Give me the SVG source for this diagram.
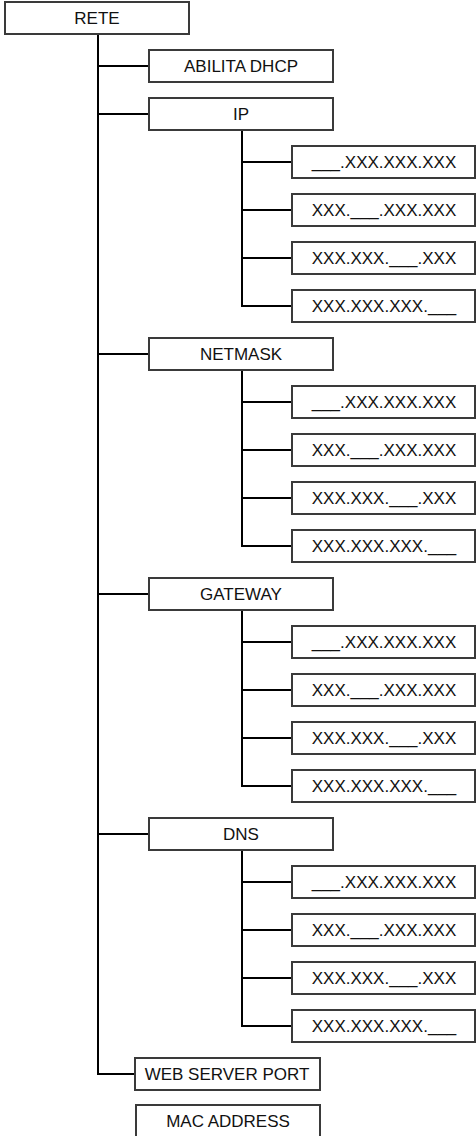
<svg xmlns="http://www.w3.org/2000/svg" width="476" height="1136" viewBox="0 0 476 1136">
<style>
rect{fill:#fff;stroke:#3a3a3a;stroke-width:2}
text{font-family:"Liberation Sans",Arial,sans-serif;font-size:17px;fill:#111;text-anchor:middle}
.c{fill:none;stroke:#000;stroke-width:2}
</style>
<rect x="0" y="0" width="476" height="1136" style="stroke:none"/>
<g id="connectors">
<path class="c" d="M98 34V1074H135M98 66H149M98 114H149M98 354H149M98 594H149M98 834H149"/>
<path class="c" d="M242 130V306H292M242 162H292M242 210H292M242 258H292"/>
<path class="c" d="M242 370V546H292M242 402H292M242 450H292M242 498H292"/>
<path class="c" d="M242 610V786H292M242 642H292M242 690H292M242 738H292"/>
<path class="c" d="M242 850V1026H292M242 882H292M242 930H292M242 978H292"/>
</g>
<g id="rete"><rect x="5" y="2" width="184" height="32"/><text x="97" y="24">RETE</text></g>
<g id="dhcp"><rect x="149" y="50" width="184" height="32"/><text x="241" y="72">ABILITA DHCP</text></g>
<g id="ip"><rect x="149" y="98" width="184" height="32"/><text x="241" y="120">IP</text></g>
<g id="ip1"><rect x="292" y="146" width="183" height="32"/><text x="384" y="168">___.XXX.XXX.XXX</text></g>
<g id="ip2"><rect x="292" y="194" width="183" height="32"/><text x="384" y="216">XXX.___.XXX.XXX</text></g>
<g id="ip3"><rect x="292" y="242" width="183" height="32"/><text x="384" y="264">XXX.XXX.___.XXX</text></g>
<g id="ip4"><rect x="292" y="290" width="183" height="32"/><text x="384" y="312">XXX.XXX.XXX.___</text></g>
<g id="netmask"><rect x="149" y="338" width="184" height="32"/><text x="241" y="360">NETMASK</text></g>
<g id="nm1"><rect x="292" y="386" width="183" height="32"/><text x="384" y="408">___.XXX.XXX.XXX</text></g>
<g id="nm2"><rect x="292" y="434" width="183" height="32"/><text x="384" y="456">XXX.___.XXX.XXX</text></g>
<g id="nm3"><rect x="292" y="482" width="183" height="32"/><text x="384" y="504">XXX.XXX.___.XXX</text></g>
<g id="nm4"><rect x="292" y="530" width="183" height="32"/><text x="384" y="552">XXX.XXX.XXX.___</text></g>
<g id="gateway"><rect x="149" y="578" width="184" height="32"/><text x="241" y="600">GATEWAY</text></g>
<g id="gw1"><rect x="292" y="626" width="183" height="32"/><text x="384" y="648">___.XXX.XXX.XXX</text></g>
<g id="gw2"><rect x="292" y="674" width="183" height="32"/><text x="384" y="696">XXX.___.XXX.XXX</text></g>
<g id="gw3"><rect x="292" y="722" width="183" height="32"/><text x="384" y="744">XXX.XXX.___.XXX</text></g>
<g id="gw4"><rect x="292" y="770" width="183" height="32"/><text x="384" y="792">XXX.XXX.XXX.___</text></g>
<g id="dns"><rect x="149" y="818" width="184" height="32"/><text x="241" y="840">DNS</text></g>
<g id="dns1"><rect x="292" y="866" width="183" height="32"/><text x="384" y="888">___.XXX.XXX.XXX</text></g>
<g id="dns2"><rect x="292" y="914" width="183" height="32"/><text x="384" y="936">XXX.___.XXX.XXX</text></g>
<g id="dns3"><rect x="292" y="962" width="183" height="32"/><text x="384" y="984">XXX.XXX.___.XXX</text></g>
<g id="dns4"><rect x="292" y="1010" width="183" height="32"/><text x="384" y="1032">XXX.XXX.XXX.___</text></g>
<g id="webport"><rect x="135" y="1058" width="185" height="32"/><text x="227" y="1080">WEB SERVER PORT</text></g>
<g id="mac"><rect x="136" y="1105" width="184" height="32"/><text x="228" y="1127">MAC ADDRESS</text></g>
</svg>
